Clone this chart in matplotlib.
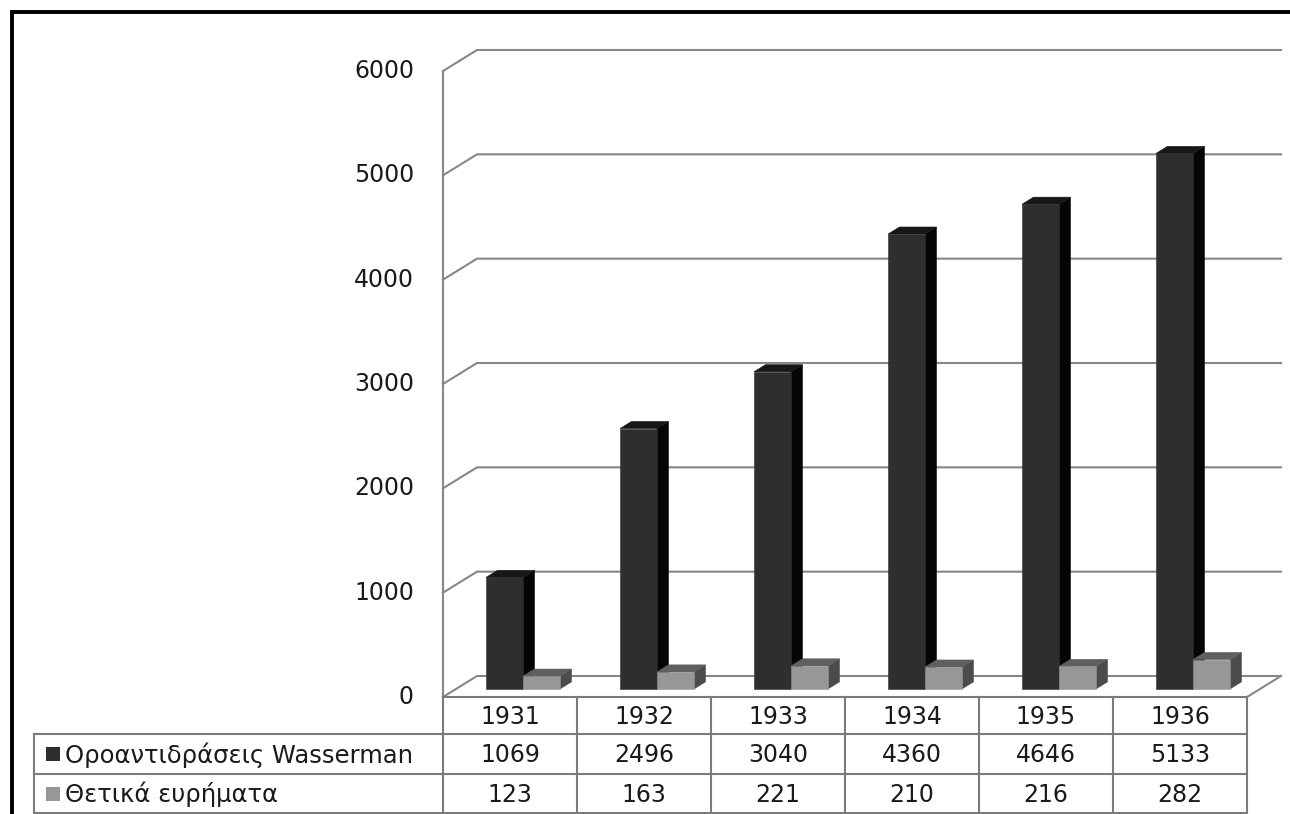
import matplotlib
matplotlib.use("Agg")
import matplotlib.pyplot as plt
from matplotlib.patches import Polygon, Rectangle

# ---- data ----
years = ["1931", "1932", "1933", "1934", "1935", "1936"]
wasserman = [1069, 2496, 3040, 4360, 4646, 5133]
positive = [123, 163, 221, 210, 216, 282]
series_names = ["Οροαντιδράσεις Wasserman", "Θετικά ευρήματα"]
y_ticks = [0, 1000, 2000, 3000, 4000, 5000, 6000]

plt.rcParams['font.family'] = ['DejaVu Sans']

W, H = 1290, 814
fig = plt.figure(figsize=(W / 100, H / 100), dpi=100)
ax = fig.add_axes([0, 0, 1, 1])
X0, Y0 = 443, 697          # pixel of front-left origin
PXC = 134.0                # pixels per category
PXV = 626 / 6000           # pixels per value unit
ax.set_xlim(-X0 / PXC, (W - X0) / PXC)
ax.set_ylim(-(H - Y0) / PXV, Y0 / PXV)
ax.axis('off')

DX = 34 / PXC              # depth offset in x (category units)
DV = 21 / PXV              # depth offset in y (value units)
ncat = len(years)


def P(x, v, z):
    return (x + z * DX, v + z * DV)


def px(xp, yp):
    return ((xp - X0) / PXC, (Y0 - yp) / PXV)


grid_c = '#878787'
glw = 1.5

# walls / gridlines
for t in y_ticks:
    a, b, c = P(0, t, 0), P(0, t, 1), P(ncat, t, 1)
    ax.plot([a[0], b[0], c[0]], [a[1], b[1], c[1]], color=grid_c, lw=glw,
            solid_joinstyle='miter', zorder=1)
# front vertical axis
a, b = P(0, 0, 0), P(0, y_ticks[-1], 0)
ax.plot([a[0], b[0]], [a[1], b[1]], color=grid_c, lw=glw, zorder=1)
# floor right edge
a, b = P(ncat, 0, 0), P(ncat, 0, 1)
ax.plot([a[0], b[0]], [a[1], b[1]], color=grid_c, lw=glw, zorder=1)

# tick labels
for t in y_ticks:
    x, y = px(414, 0)[0], t
    ax.text(x, y, f"{t}", ha='right', va='center', fontsize=17, color='#1a1a1a')

# bars
bw = 37 / PXC
z0, z1 = 0.38, 0.72
styles = [
    dict(front='#2e2e2e', side='#050505', top='#171717'),
    dict(front='#979797', side='#4b4b4b', top='#5f5f5f'),
]


def draw_bar(xl, xr, v, st, zo):
    front = [P(xl, 0, z0), P(xr, 0, z0), P(xr, v, z0), P(xl, v, z0)]
    side = [P(xr, 0, z0), P(xr, 0, z1), P(xr, v, z1), P(xr, v, z0)]
    top = [P(xl, v, z0), P(xr, v, z0), P(xr, v, z1), P(xl, v, z1)]
    for poly, c in ((side, st['side']), (top, st['top']), (front, st['front'])):
        ax.add_patch(Polygon(poly, closed=True, facecolor=c, edgecolor=c,
                             lw=0.4, zorder=zo))


for i in range(ncat):
    cx = i + 0.5
    draw_bar(cx - bw, cx, wasserman[i], styles[0], 3 + 2 * i)
    draw_bar(cx, cx + bw, positive[i], styles[1], 4 + 2 * i)

# ---- data table ----
tc = '#7b7b7b'
tlw = 1.5
row_y = [697, 734, 774, 813]
label_left = 34
col_x = [X0 + PXC * k for k in range(ncat + 1)]


def hline(x1, x2, y):
    a, b = px(x1, y), px(x2, y)
    ax.plot([a[0], b[0]], [a[1], b[1]], color=tc, lw=tlw, zorder=20,
            clip_on=False, solid_capstyle='projecting')


def vline(x, y1, y2):
    a, b = px(x, y1), px(x, y2)
    ax.plot([a[0], b[0]], [a[1], b[1]], color=tc, lw=tlw, zorder=20,
            clip_on=False, solid_capstyle='projecting')


hline(col_x[0], col_x[-1], row_y[0])
for ry in row_y[1:]:
    hline(label_left, col_x[-1], ry)
for cxp in col_x:
    vline(cxp, row_y[0], row_y[-1])
vline(label_left, row_y[1], row_y[-1])

txt_c = '#1a1a1a'
rows = [years, [str(v) for v in wasserman], [str(v) for v in positive]]
for r, vals in enumerate(rows):
    ymid = (row_y[r] + row_y[r + 1]) / 2
    for k, s in enumerate(vals):
        xx, yy = px((col_x[k] + col_x[k + 1]) / 2, ymid + 1)
        ax.text(xx, yy, s, ha='center', va='center', fontsize=17, color=txt_c)

for r, name in enumerate(series_names):
    ymid = (row_y[r + 1] + row_y[r + 2]) / 2
    sq = 14
    a = px(46, ymid + sq / 2)
    ax.add_patch(Rectangle(a, sq / PXC, sq / PXV, facecolor=styles[r]['front'],
                           edgecolor='none', zorder=21, clip_on=False))
    xx, yy = px(65, ymid + 1)
    ax.text(xx, yy, name, ha='left', va='center', fontsize=17.5, color=txt_c)

# outer frame
a, b, c = px(11.5, H + 5), px(11.5, 12), px(W + 5, 12)
ax.plot([a[0], b[0], c[0]], [a[1], b[1], c[1]], color='black', lw=2.8,
        solid_joinstyle='miter', zorder=30, clip_on=False)

fig.savefig('out.png', dpi=100, facecolor='white')
